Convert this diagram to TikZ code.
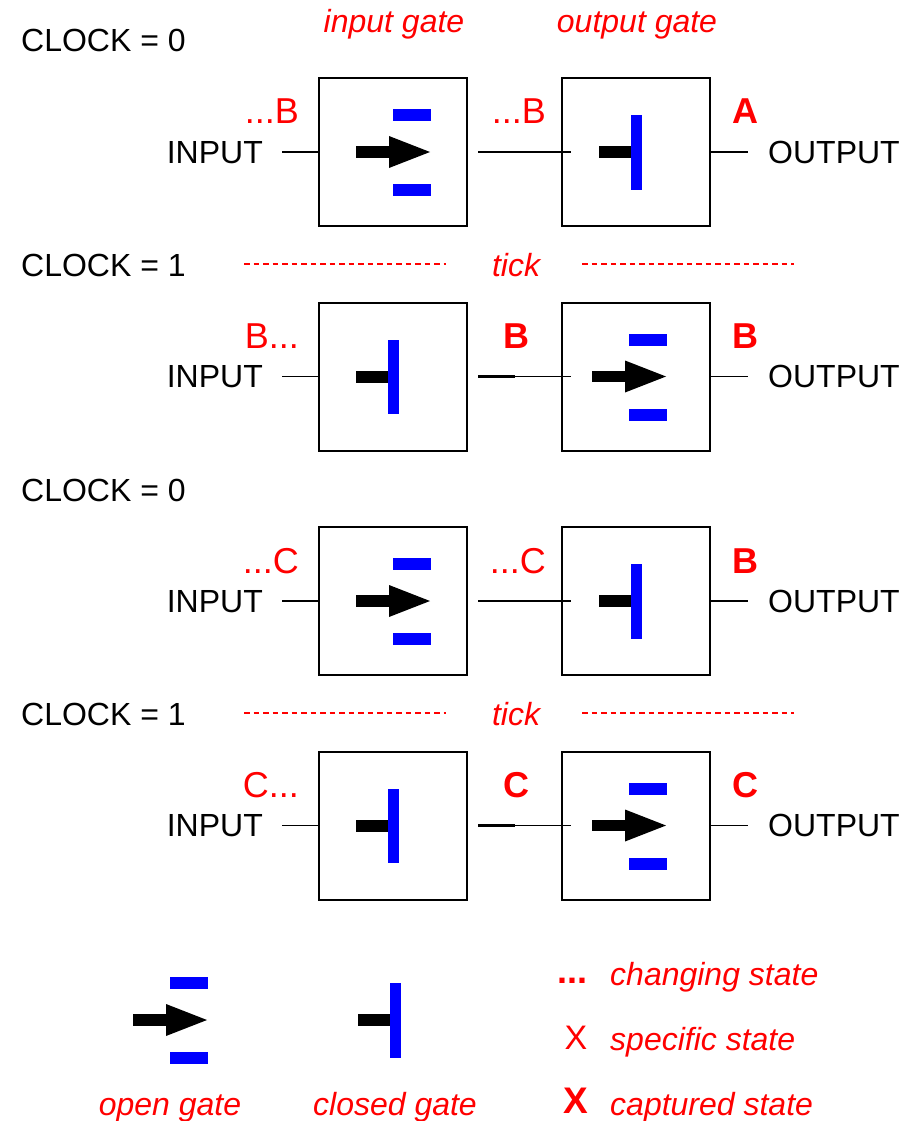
\documentclass[tikz,border=0pt]{standalone}
\usepackage{fontspec}
\setmainfont{Liberation Sans}
\definecolor{gblue}{RGB}{0,0,255}
\definecolor{lred}{RGB}{255,0,0}
\tikzset{
  x=1pt, y=-1pt,
  txt/.style={inner sep=0pt, font=\fontsize{32}{38}\selectfont},
  redlbl/.style={inner sep=0pt, text=lred, font=\fontsize{36}{42}\selectfont},
  redbold/.style={inner sep=0pt, text=lred, font=\fontsize{36}{42}\selectfont\bfseries},
  reditl/.style={inner sep=0pt, text=lred, font=\fontsize{32}{38}\selectfont\itshape},
  gatebox/.style={draw, line width=2pt, minimum width=148pt, minimum height=148pt, inner sep=0pt},
  wire/.style={line width=1.8pt},
  thickwire/.style={line width=2.6pt},
  tickline/.style={lred, line width=2pt, dash pattern=on 5.5pt off 4pt},
  pics/opengate/.style={code={
    \fill[black] (-37,-5.8) rectangle (-4,5.8);
    \fill[black] (-4,-16) -- (37,0) -- (-4,16) -- cycle;
    \fill[gblue] (0,-43) rectangle (38,-31);
    \fill[gblue] (0,32) rectangle (38,44);
  }},
  pics/closedgate/.style={code={
    \fill[black] (-37,-6) rectangle (-5,6);
    \fill[gblue] (-5,-37) rectangle (6,37.5);
  }}
}
\begin{document}
\begin{tikzpicture}
\useasboundingbox (0,0) rectangle (920,1121);
% headers
\node[reditl, anchor=base] (hin) at (394,33) {input gate};
\node[reditl, anchor=base] (hout) at (637,33) {output gate};
% ---------- row 1 ----------
\node[txt, anchor=base west] (c1) at (21,52) {CLOCK = 0};
\node[gatebox] (a1) at (393,152) {};
\node[gatebox] (b1) at (636,152) {};
\node[txt, anchor=base east] (in1) at (263,163) {INPUT};
\node[txt, anchor=base west] (out1) at (768,163) {OUTPUT};
\draw[wire] ([xshift=-36pt]a1.west) -- (a1.west);
\draw[wire] ([xshift=10pt]a1.east) -- ([xshift=10pt]b1.west);
\draw[thickwire] ([xshift=10pt]a1.east) -- ([xshift=47pt]a1.east);
\draw[wire] (b1.east) -- ([xshift=37pt]b1.east);
\pic at (a1) {opengate};
\pic at (b1) {closedgate};
\node[redlbl, anchor=base east] (l1a) at (299,124) {...B};
\node[redlbl, anchor=base east] (l1b) at (546,124) {...B};
\node[redbold, anchor=base] (l1c) at (745,124) {A};
% ---------- tick 1 ----------
\node[txt, anchor=base west] (c2) at (21,276.5) {CLOCK = 1};
\node[reditl, anchor=base] (t1) at (516,276) {tick};
\coordinate (t1a) at (244,264); \coordinate (t1b) at (446,264);
\coordinate (t1c) at (582,264); \coordinate (t1d) at (794,264);
\draw[tickline] (t1a) -- (t1b);
\draw[tickline] (t1c) -- (t1d);
% ---------- row 2 ----------
\node[gatebox] (a2) at (393,376.5) {};
\node[gatebox] (b2) at (636,376.5) {};
\node[txt, anchor=base east] (in2) at (263,387.5) {INPUT};
\node[txt, anchor=base west] (out2) at (768,387.5) {OUTPUT};
\draw[wire] ([xshift=-36pt]a2.west) -- (a2.west);
\draw[wire] ([xshift=10pt]a2.east) -- ([xshift=10pt]b2.west);
\draw[thickwire] ([xshift=10pt]a2.east) -- ([xshift=47pt]a2.east);
\draw[wire] (b2.east) -- ([xshift=37pt]b2.east);
\pic at (a2) {closedgate};
\pic at ([xshift=-7pt]b2.center) {opengate};
\node[redlbl, anchor=base east] (l2a) at (299,348.5) {B...};
\node[redbold, anchor=base] (l2b) at (516,348.5) {B};
\node[redbold, anchor=base] (l2c) at (745,348.5) {B};
% ---------- row 3 ----------
\node[txt, anchor=base west] (c3) at (21,501) {CLOCK = 0};
\node[gatebox] (a3) at (393,601) {};
\node[gatebox] (b3) at (636,601) {};
\node[txt, anchor=base east] (in3) at (263,612) {INPUT};
\node[txt, anchor=base west] (out3) at (768,612) {OUTPUT};
\draw[wire] ([xshift=-36pt]a3.west) -- (a3.west);
\draw[wire] ([xshift=10pt]a3.east) -- ([xshift=10pt]b3.west);
\draw[thickwire] ([xshift=10pt]a3.east) -- ([xshift=47pt]a3.east);
\draw[wire] (b3.east) -- ([xshift=37pt]b3.east);
\pic at (a3) {opengate};
\pic at (b3) {closedgate};
\node[redlbl, anchor=base east] (l3a) at (299,573) {...C};
\node[redlbl, anchor=base east] (l3b) at (546,573) {...C};
\node[redbold, anchor=base] (l3c) at (745,573) {B};
% ---------- tick 2 ----------
\node[txt, anchor=base west] (c4) at (21,725.5) {CLOCK = 1};
\node[reditl, anchor=base] (t2) at (516,725) {tick};
\coordinate (t2a) at (244,713); \coordinate (t2b) at (446,713);
\coordinate (t2c) at (582,713); \coordinate (t2d) at (794,713);
\draw[tickline] (t2a) -- (t2b);
\draw[tickline] (t2c) -- (t2d);
% ---------- row 4 ----------
\node[gatebox] (a4) at (393,825.5) {};
\node[gatebox] (b4) at (636,825.5) {};
\node[txt, anchor=base east] (in4) at (263,836.5) {INPUT};
\node[txt, anchor=base west] (out4) at (768,836.5) {OUTPUT};
\draw[wire] ([xshift=-36pt]a4.west) -- (a4.west);
\draw[wire] ([xshift=10pt]a4.east) -- ([xshift=10pt]b4.west);
\draw[thickwire] ([xshift=10pt]a4.east) -- ([xshift=47pt]a4.east);
\draw[wire] (b4.east) -- ([xshift=37pt]b4.east);
\pic at (a4) {closedgate};
\pic at ([xshift=-7pt]b4.center) {opengate};
\node[redlbl, anchor=base east] (l4a) at (299,797.5) {C...};
\node[redbold, anchor=base] (l4b) at (516,797.5) {C};
\node[redbold, anchor=base] (l4c) at (745,797.5) {C};
% ---------- legend ----------
\pic at (170,1020) {opengate};
\pic at (395,1020) {closedgate};
\node[reditl, anchor=base] (lg1) at (170,1115) {open gate};
\node[reditl, anchor=base] (lg2) at (395,1115) {closed gate};
\node[inner sep=0pt, text=lred, font=\fontsize{36}{42}\selectfont\bfseries, anchor=base west] (lk1) at (557,983) {...};
\node[reditl, anchor=base west] (lt1) at (610,985) {changing state};
\node[inner sep=0pt, text=lred, font=\fontsize{34}{40}\selectfont, anchor=base] (lk2) at (576,1049) {X};
\node[reditl, anchor=base west] (lt2) at (610,1050) {specific state};
\node[inner sep=0pt, text=lred, font=\fontsize{37}{44}\selectfont\bfseries, anchor=base] (lk3) at (576,1113) {X};
\node[reditl, anchor=base west] (lt3) at (610,1115) {captured state};
\end{tikzpicture}
\end{document}
